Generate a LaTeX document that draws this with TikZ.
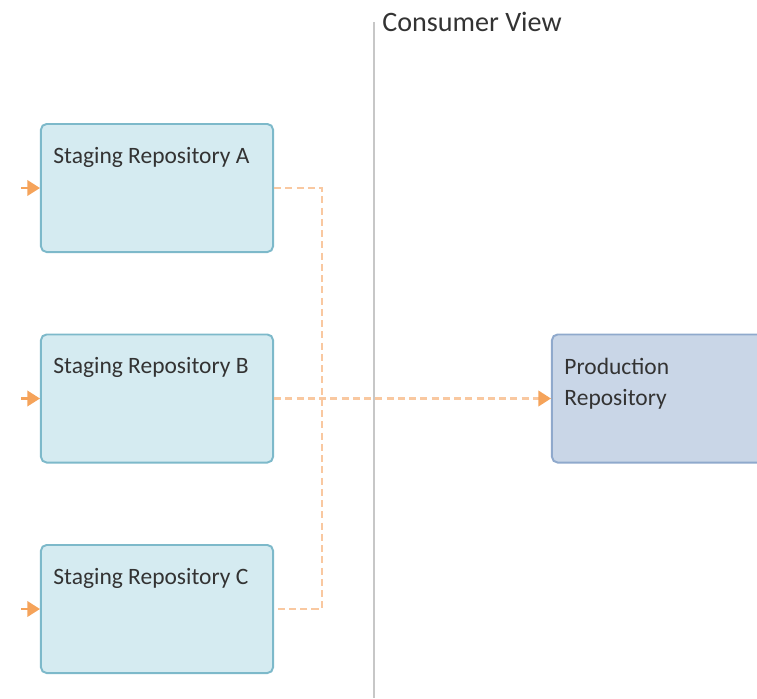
\documentclass[tikz,border=0pt]{standalone}
\usepackage{fontspec}
\setmainfont{Carlito}
\usepackage{tikz}
\usetikzlibrary{positioning, arrows.meta}

\definecolor{stagefill}{HTML}{D5EBF1}
\definecolor{stageline}{HTML}{7DB9CA}
\definecolor{prodfill}{HTML}{C9D6E7}
\definecolor{prodline}{HTML}{8FA9CC}
\definecolor{flow}{HTML}{F5A35A}
\definecolor{flowdash}{HTML}{F9C8A0}

\begin{document}
\begin{tikzpicture}[
    x=0.025cm, y=-0.025cm,
    every node/.style={font=\fontsize{16.7}{22.5}\selectfont, text=black!80},
    repo/.style={rectangle, draw=#1line, fill=#1fill, line width=1.4pt, rounded corners=4pt, minimum width=5.8cm, minimum height=3.2cm, inner sep=0pt},
    repo/.default=stage,
    reptext/.style={anchor=north west, inner sep=0pt, align=left, xshift=0.33cm, yshift=-0.6cm},
    feed/.style={-{Triangle[length=9pt, width=11pt]}, flow, line width=1.6pt},
    promote/.style={flowdash, dashed, dash pattern=on 5pt off 3pt, line width=1.8pt},
    divider/.style={black!22, line width=1.2pt},
]
\useasboundingbox (0,0) rectangle (757,698);
\clip (0,0) rectangle (757,698);

% consumer view divider
\coordinate (viewtop) at (374,22);
\coordinate (viewbot) at (374,698);
\draw[divider] (viewtop) -- (viewbot);
\node[anchor=base west, inner sep=0pt, font=\fontsize{20}{24}\selectfont] (view) at (382,31) {Consumer View};

% staging repositories
\node[repo, label={[reptext]north west:Staging Repository A}] (repA) at (157,188) {};
\node[repo, label={[reptext]north west:Staging Repository B}] (repB) at (157,398.5) {};
\node[repo, label={[reptext]north west:Staging Repository C}] (repC) at (157,609) {};

% production
\node[repo=prod, label={[reptext]north west:{Production\\Repository}}] (prod) at (668,398.5) {};

% incoming arrows
\coordinate (inA) at (21,188);
\coordinate (inB) at (21,398.5);
\coordinate (inC) at (21,609);
\draw[feed] (inA) -- (repA.west);
\draw[feed] (inB) -- (repB.west);
\draw[feed] (inC) -- (repC.west);

% promotion paths
\coordinate (bus) at (322,0);
\draw[promote] (repA.east) -- (repA.east -| bus) -- (repC.east -| bus) -- (repC.east);
\draw[promote, -{Triangle[length=9pt, width=11pt, color=flow]}] (repB.east) -- (prod.west);

\end{tikzpicture}
\end{document}
